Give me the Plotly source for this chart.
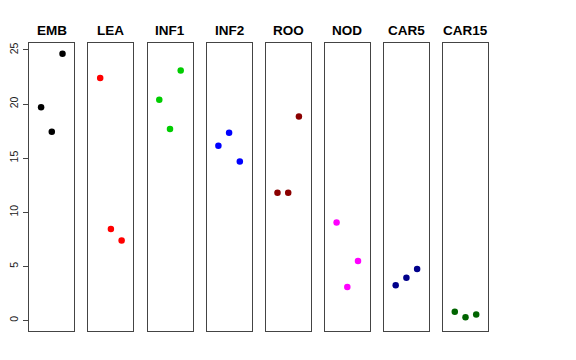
import plotly.graph_objects as go

tissues = ["EMB", "LEA", "INF1", "INF2", "ROO", "NOD", "CAR5", "CAR15"]
colors = ["#000000", "#FF0000", "#00CD00", "#0000FF", "#8B0000", "#FF00FF", "#00008B", "#006400"]
x_rep = [1, 2, 3]
values = {
    "EMB": [19.7, 17.45, 24.65],
    "LEA": [22.4, 8.45, 7.4],
    "INF1": [20.4, 17.7, 23.1],
    "INF2": [16.15, 17.35, 14.7],
    "ROO": [11.8, 11.8, 18.85],
    "NOD": [9.05, 3.1, 5.5],
    "CAR5": [3.25, 3.95, 4.75],
    "CAR15": [0.8, 0.3, 0.55],
}
y_ticks = [0, 5, 10, 15, 20, 25]

W, H = 576, 360
OFF = 8.0  # page body margin
left0, step, pw = 29.3 - OFF, 59.1, 45.0
top_px, bot_px = 42.7 - OFF, 331.0 - OFF

fig = go.Figure()
layout = dict(
    width=W, height=H, margin=dict(l=0, r=0, t=0, b=0),
    paper_bgcolor="white", plot_bgcolor="white", showlegend=False,
    font=dict(family="Liberation Sans, Arial, sans-serif", color="black"),
)
annotations = []
ydom = [(H - bot_px) / H, (H - top_px) / H]
for i, t in enumerate(tissues):
    n = "" if i == 0 else str(i + 1)
    x0 = (left0 + step * i) / W
    x1 = (left0 + step * i + pw) / W
    fig.add_trace(go.Scatter(
        x=x_rep, y=values[t], mode="markers",
        marker=dict(color=colors[i], size=6.5),
        xaxis="x" + n, yaxis="y" + n, hoverinfo="skip",
    ))
    layout["xaxis" + n] = dict(
        domain=[x0, x1], range=[-0.1, 4.1], showticklabels=False, ticks="",
        showgrid=False, zeroline=False, showline=True, mirror=True,
        linecolor="#444444", linewidth=1, anchor="y" + n, automargin=False,
    )
    ya = dict(
        domain=ydom, range=[-0.97, 25.67], showgrid=False, zeroline=False,
        showline=True, mirror=True, linecolor="#444444", linewidth=1,
        anchor="x" + n, automargin=False,
    )
    if i == 0:
        ya.update(tickvals=y_ticks, ticks="outside", ticklen=5, tickcolor="#444444",
                  tickangle=-90, ticklabelstandoff=1,
                  tickfont=dict(size=10.5, color="#222222"))
    else:
        ya.update(showticklabels=False, ticks="")
    layout["yaxis" + n] = ya
    annotations.append(dict(
        text="<b>" + t + "</b>", x=(x0 + x1) / 2, y=(H - 31.5) / H,
        xref="paper", yref="paper", xanchor="center", yanchor="bottom",
        showarrow=False, font=dict(size=13.5, color="black"),
    ))
layout["annotations"] = annotations
fig.update_layout(**layout)
fig.write_html("out.html")
